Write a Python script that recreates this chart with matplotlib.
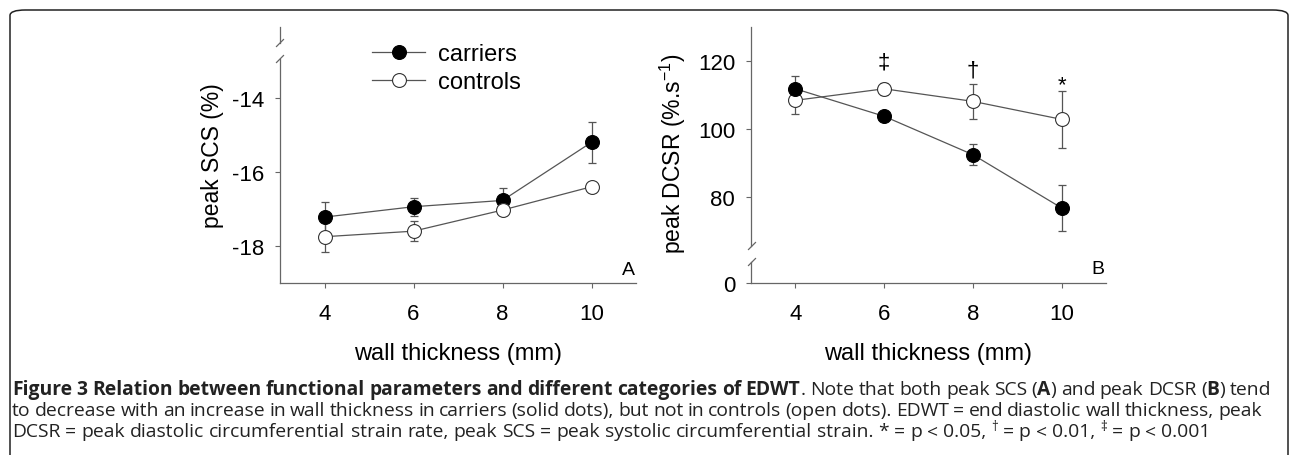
import matplotlib
matplotlib.use("Agg")
import matplotlib.pyplot as plt
from matplotlib.lines import Line2D
from matplotlib.patches import FancyBboxPatch

plt.rcParams['font.family'] = ['Liberation Sans', 'DejaVu Sans']
plt.rcParams['mathtext.default'] = 'regular'
plt.rcParams['axes.unicode_minus'] = False

# data
thickness = [4, 6, 8, 10]
scs_carriers = [-17.22, -16.94, -16.77, -15.20]
scs_carriers_err = [0.42, 0.24, 0.33, 0.56]
scs_controls = [-17.75, -17.60, -17.03, -16.40]
scs_controls_err = [0.42, 0.27, 0.10, 0.10]

dcsr_carriers = [111.8, 103.7, 92.4, 76.7]
dcsr_carriers_err = [3.7, 1.0, 3.0, 6.8]
dcsr_controls = [108.4, 111.8, 108.1, 102.8]
dcsr_controls_err = [3.9, 1.8, 5.2, 8.3]

signif_x = [6, 8, 10]
signif_y = [119.6, 117.3, 113.0]
signif_sym = ['\u2021', '\u2020', '*']

W, H = 1290, 456
fig = plt.figure(figsize=(W / 100, H / 100), dpi=100)


def fx(px):
    return px / W


def fy(py):
    return 1 - py / H


AXC = '#666666'
LC = '#555555'
TICK_SIZE = 16
LABEL_SIZE = 17


def style(ax, bottom=True):
    for s in ['top', 'right']:
        ax.spines[s].set_visible(False)
    for s in ['left', 'bottom']:
        ax.spines[s].set_color(AXC)
        ax.spines[s].set_linewidth(0.9)
    ax.tick_params(direction='out', length=3.5, width=0.8, color=AXC,
                   labelsize=TICK_SIZE, labelcolor='black')
    ax.tick_params(axis='x', pad=11)
    ax.tick_params(axis='y', pad=8)
    if not bottom:
        ax.spines['bottom'].set_visible(False)
        ax.tick_params(axis='x', bottom=False, labelbottom=False)


def draw(ax, y1, e1, y2, e2, carriers_on_top):
    ax.errorbar(thickness, y1, yerr=e1, fmt='none', ecolor=LC, elinewidth=0.9,
                capsize=3, capthick=0.9, zorder=1)
    ax.errorbar(thickness, y2, yerr=e2, fmt='none', ecolor=LC, elinewidth=0.9,
                capsize=3, capthick=0.9, zorder=1)
    zc, zo = (4, 3) if carriers_on_top else (3, 4)
    h1, = ax.plot(thickness, y1, '-o', color=LC, lw=0.9, ms=10,
                  mfc='black', mec='black', mew=0.8, zorder=zc, label='carriers')
    h2, = ax.plot(thickness, y2, '-o', color=LC, lw=0.9, ms=10,
                  mfc='white', mec='#333333', mew=0.8, zorder=zo, label='controls')
    return h1, h2


def brk(xc, yc):
    fig.add_artist(Line2D([fx(xc - 3.5), fx(xc + 3.5)], [fy(yc + 3.5), fy(yc - 3.5)],
                          color=AXC, lw=0.9))


# panel A
axA = fig.add_axes([fx(280), fy(284), (636 - 280) / W, (284 - 60) / H])
style(axA)
axA.set_xlim(3, 11)
axA.set_ylim(-19, -12.95)
axA.set_xticks(thickness)
axA.set_yticks([-18, -16, -14])
h1, h2 = draw(axA, scs_carriers, scs_carriers_err, scs_controls, scs_controls_err, False)
axA.set_ylabel('peak SCS (%)', fontsize=16.5, va='center')
axA.yaxis.set_label_coords(-(280 - 212) / 356, (284 - 156) / 224)
axA.set_xlabel('wall thickness (mm)', fontsize=LABEL_SIZE)
axA.xaxis.set_label_coords(0.5, -(354 - 284) / 224)
axA.xaxis.label.set_va('center')
axA.text(0.978, 0.06, 'A', transform=axA.transAxes, ha='center', va='center', fontsize=14)
fig.add_artist(Line2D([fx(280), fx(280)], [fy(28), fy(44)], color=AXC, lw=0.9))
brk(280, 44)
brk(280, 60)

fig.legend(handles=[h1, h2], loc='upper left', bbox_to_anchor=(fx(372), fy(44)),
           frameon=False, fontsize=LABEL_SIZE, borderpad=0, handlelength=2.25,
           handletextpad=0.55, labelspacing=0.25, borderaxespad=0)

# panel B (broken y axis)
axB = fig.add_axes([fx(751), fy(247), (1106 - 751) / W, (247 - 28) / H])
axB0 = fig.add_axes([fx(751), fy(284), (1106 - 751) / W, (284 - 263) / H])
style(axB, bottom=False)
style(axB0)
for ax in (axB, axB0):
    ax.set_xlim(3, 11)
    ax.set_xticks(thickness)
axB.set_ylim(65.5, 130)
axB.set_yticks([80, 100, 120])
axB0.set_ylim(0, 6.2)
axB0.set_yticks([0])
draw(axB, dcsr_carriers, dcsr_carriers_err, dcsr_controls, dcsr_controls_err, True)
for sx, sy, s in zip(signif_x, signif_y, signif_sym):
    axB.text(sx, sy, s, ha='center', va='center', fontsize=16)
axB.set_ylabel('peak DCSR (%.s$^{-1}$)', fontsize=16.5, va='center')
axB.yaxis.set_label_coords(-(751 - 673) / 355, (247 - 154) / 219)
axB0.set_xlabel('wall thickness (mm)', fontsize=LABEL_SIZE)
axB0.xaxis.set_label_coords(0.5, -(354 - 284) / 21)
axB0.xaxis.label.set_va('center')
axB0.text(0.977, 0.67, 'B', transform=axB0.transAxes, ha='center', va='center', fontsize=14)
brk(752, 247)
brk(752, 263)

# frame round the figure
fig.add_artist(FancyBboxPatch((fx(10), fy(480)), fx(1278), (480 - 11) / H,
                              boxstyle='round,pad=0,rounding_size=0.012',
                              transform=fig.transFigure, fill=False,
                              ec='#222222', lw=1.1))

# caption, laid out word by word and justified
CAP = ['Open Sans', 'DejaVu Sans']
CAP_SIZE = 13.9
line1 = [('Figure 3 Relation between functional parameters and different categories of EDWT', 'bold', False),
         ('. Note that both peak SCS (', 'normal', False), ('A', 'bold', False),
         (') and peak DCSR (', 'normal', False), ('B', 'bold', False), (') tend', 'normal', False)]
line2 = [('to decrease with an increase in wall thickness in carriers (solid dots), but not in controls '
          '(open dots). EDWT = end diastolic wall thickness, peak', 'normal', False)]
line3 = [('DCSR = peak diastolic circumferential strain rate, peak SCS = peak systolic circumferential '
          'strain. * = p < 0.05, ', 'normal', False), ('\u2020', 'normal', True),
         (' = p < 0.01, ', 'normal', False), ('\u2021', 'normal', True), (' = p < 0.001', 'normal', False)]

renderer = fig.canvas.get_renderer()


def tokens(segments):
    out = []
    pending_space = False
    for text, weight, sup in segments:
        parts = text.split(' ')
        for i, p in enumerate(parts):
            if i > 0:
                pending_space = True
            if p == '':
                continue
            out.append((p, weight, sup, pending_space and len(out) > 0))
            pending_space = False
    return out


def width_of(t):
    return t.get_window_extent(renderer).width


probe = fig.text(0, 0, 'a a', fontsize=CAP_SIZE, family=CAP)
probe2 = fig.text(0, 0, 'aa', fontsize=CAP_SIZE, family=CAP)
space_w = width_of(probe) - width_of(probe2)
probe.remove()
probe2.remove()


def caption_line(segments, base_px, right_px=None, left_px=12):
    toks = tokens(segments)
    arts = []
    for word, weight, sup, _ in toks:
        size = CAP_SIZE * 0.7 if sup else CAP_SIZE
        t = fig.text(0, fy(base_px), word, fontsize=size, family=CAP,
                     weight=weight, va='baseline', color='#222222')
        arts.append(t)
    widths = [width_of(t) for t in arts]
    n_sp = sum(1 for tk in toks if tk[3])
    natural = sum(widths) + n_sp * space_w
    gap = space_w
    if right_px is not None and n_sp:
        gap = space_w + (right_px - left_px - natural) / n_sp
    x = left_px
    for t, w, tk in zip(arts, widths, toks):
        if tk[3]:
            x += gap
        t.set_x(fx(x))
        if tk[2]:
            t.set_y(fy(base_px - 6))
        x += w


caption_line(line1, 395, 1271)
caption_line(line2, 416, 1262)
caption_line(line3, 437)

fig.savefig('out.png', dpi=100)
